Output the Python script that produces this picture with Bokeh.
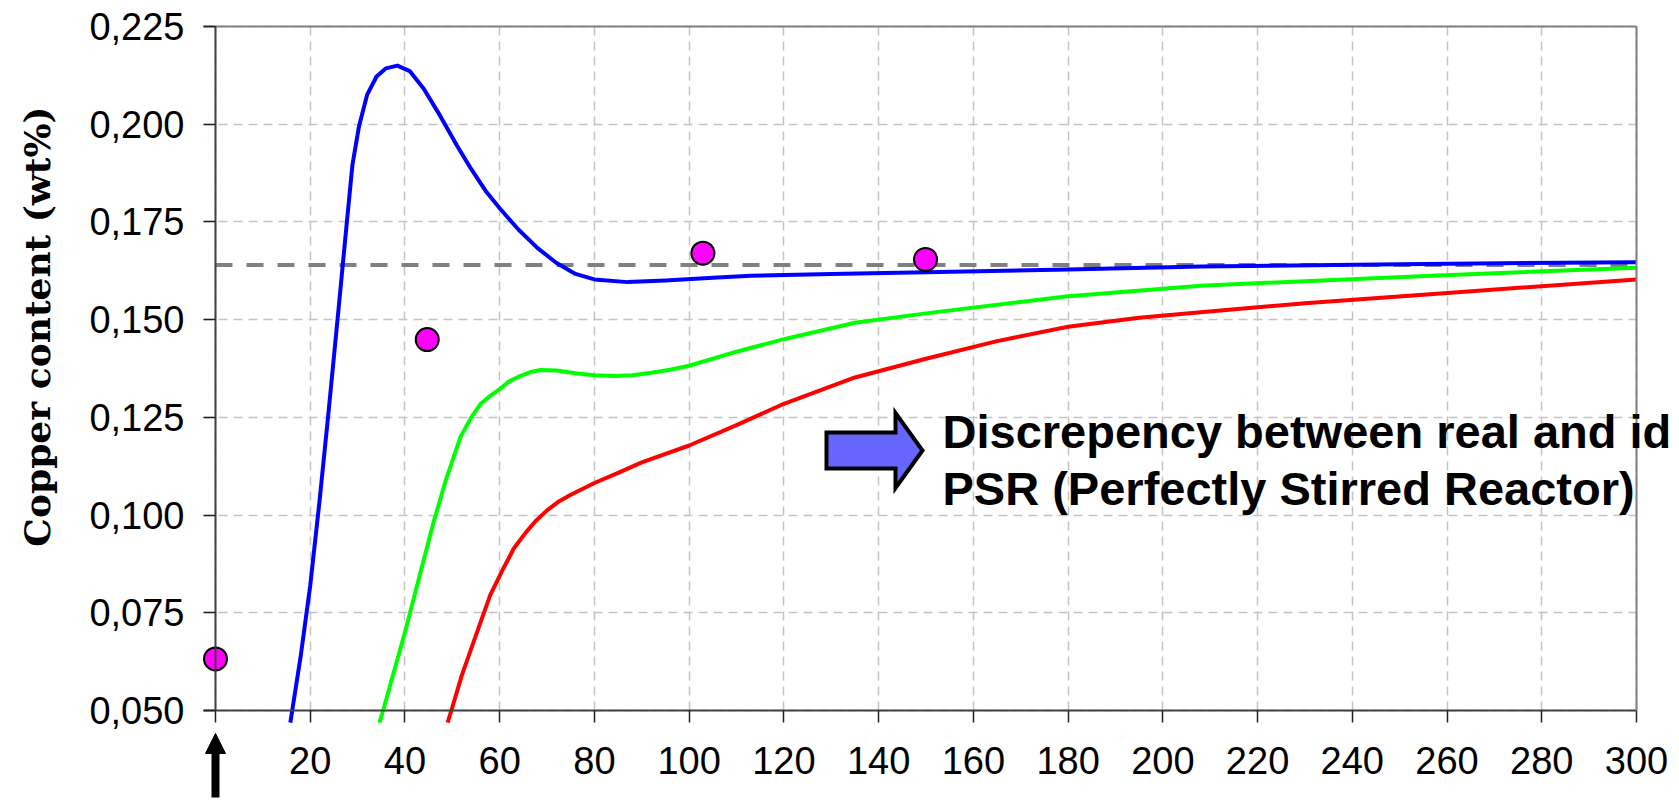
import numpy as np
from bokeh.plotting import figure
from bokeh.models import Range1d, FixedTicker, LinearAxis, Label, Arrow, NormalHead
from bokeh.embed import file_html
from bokeh.resources import INLINE

# ---------------- data ----------------
x_blue = [15.8, 16.2, 18, 20, 22, 24, 26, 27.5, 28.9, 30.3, 32, 34, 36, 38.4, 41, 44, 47.5,
          51, 54, 57, 60, 64, 68, 72, 76, 80, 87, 95, 105, 113, 130, 150, 180, 208, 250, 300]
y_blue = [0.0469, 0.050, 0.064, 0.082, 0.104, 0.128, 0.153, 0.172, 0.1895, 0.1995, 0.2075,
          0.2122, 0.2143, 0.2150, 0.2136, 0.2090, 0.2020, 0.1945, 0.1885, 0.1830, 0.1785,
          0.1730, 0.1683, 0.1645, 0.1617, 0.1603, 0.1596, 0.1600, 0.1607, 0.1612, 0.1617,
          0.1621, 0.1628, 0.1636, 0.1642, 0.1647]

x_green = [34.6, 35.4, 37, 40, 43, 46, 48.6, 51.7, 54, 56, 58, 60, 62, 64.4, 66.5, 68.6, 72,
           76, 80, 84.4, 88, 92, 96, 100, 110, 120, 135, 150, 180, 208, 258, 300]
y_green = [0.0469, 0.050, 0.057, 0.070, 0.084, 0.098, 0.1088, 0.1199, 0.1250, 0.1285, 0.1305,
           0.1322, 0.1342, 0.1356, 0.1366, 0.1371, 0.1370, 0.1363, 0.1358, 0.1356, 0.1358,
           0.1364, 0.1372, 0.1382, 0.1418, 0.1450, 0.1492, 0.1516, 0.1560, 0.1587, 0.1613,
           0.1633]

x_red = [49.0, 49.8, 52, 55.2, 58, 60.8, 63, 65.5, 67.6, 70, 72.5, 75, 78, 80, 85, 90, 100,
         110, 119.3, 135, 150, 165, 180, 195, 208, 230, 258.6, 300]
y_red = [0.0469, 0.050, 0.059, 0.070, 0.0795, 0.0864, 0.0915, 0.0955, 0.0985, 0.1012, 0.1035,
         0.1052, 0.1070, 0.1082, 0.1108, 0.1135, 0.1178, 0.1230, 0.1281, 0.1352, 0.1400,
         0.1445, 0.1482, 0.1505, 0.1519, 0.1542, 0.1567, 0.1603]

x_meas = [0, 44.7, 102.9, 149.9]
y_meas = [0.0632, 0.1449, 0.1670, 0.1654]

psr_level = 0.164

x_ticks = list(range(0, 301, 20))
x_tick_labels = [""] + [str(v) for v in range(20, 301, 20)]
y_ticks = [0.050, 0.075, 0.100, 0.125, 0.150, 0.175, 0.200, 0.225]
y_tick_labels = ["0,050", "0,075", "0,100", "0,125", "0,150", "0,175", "0,200", "0,225"]

y_title = "Copper content (wt%)"
note_line1 = "Discrepency between real and id"
note_line2 = "PSR (Perfectly Stirred Reactor)"

# ---------------- layout (whole canvas is the frame; axes are pinned) ----------------
W, H = 1679, 800
X_MIN, X_MAX = 0, 300
Y_MIN, Y_MAX = 0.050, 0.225
PLOT_L, PLOT_R, PLOT_T, PLOT_B = 215, 1636, 26, 710      # plot area in pixels
PX_PER_X = (PLOT_R - PLOT_L) / (X_MAX - X_MIN)
PX_PER_Y = (PLOT_B - PLOT_T) / (Y_MAX - Y_MIN)
TICK = 12


def dx(px):  # pixel column -> data x
    return X_MIN + (px - PLOT_L) / PX_PER_X


def dy(py):  # pixel row -> data y
    return Y_MAX - (py - PLOT_T) / PX_PER_Y


x_edge = dx(PLOT_L - TICK)

p = figure(width=W, height=H, min_border=0, min_border_left=0, min_border_right=0,
           min_border_top=0, min_border_bottom=0,
           x_range=Range1d(dx(0), dx(W)), y_range=Range1d(dy(H), dy(0)),
           output_backend="svg", toolbar_location=None,
           background_fill_color="white", border_fill_color="white")
p.outline_line_color = None
p.title.visible = False

TICK_FONT = "Liberation Sans"
TICK_SIZE = "38px"


def style_axis(a):
    a.major_tick_out = TICK
    a.major_tick_in = 0
    a.minor_tick_out = 0
    a.minor_tick_in = 0
    a.axis_line_color = "#404040"
    a.axis_line_width = 2
    a.major_tick_line_color = "#202020"
    a.major_tick_line_width = 1.5
    a.major_label_text_font = TICK_FONT
    a.major_label_text_font_size = TICK_SIZE
    a.major_label_text_color = "black"


# x axis pinned at y = 0.05
xa = p.xaxis[0]
style_axis(xa)
xa.fixed_location = Y_MIN
xa.bounds = (x_edge, X_MAX)
xa.ticker = FixedTicker(ticks=x_ticks)
xa.major_label_overrides = {t: l for t, l in zip(x_ticks, x_tick_labels)}
xa.major_label_standoff = 24

# y axis pinned at x = 0
ya = p.yaxis[0]
style_axis(ya)
ya.fixed_location = X_MIN
ya.bounds = (Y_MIN, Y_MAX)
ya.ticker = FixedTicker(ticks=y_ticks)
ya.major_label_overrides = {t: l for t, l in zip(y_ticks, y_tick_labels)}
ya.major_label_standoff = 19

# plot-area border on top and right
top = LinearAxis(ticker=FixedTicker(ticks=[]), fixed_location=Y_MAX, bounds=(x_edge, X_MAX),
                 axis_line_color="#808080", axis_line_width=2,
                 major_tick_out=0, major_tick_in=0, minor_tick_out=0, minor_tick_in=0)
p.add_layout(top, "above")
right = LinearAxis(ticker=FixedTicker(ticks=[]), fixed_location=X_MAX, bounds=(Y_MIN, Y_MAX),
                   axis_line_color="#808080", axis_line_width=2,
                   major_tick_out=0, major_tick_in=0, minor_tick_out=0, minor_tick_in=0)
p.add_layout(right, "right")

# grid limited to the plot area
xg, yg = p.xgrid[0], p.ygrid[0]
xg.ticker = FixedTicker(ticks=x_ticks)
yg.ticker = FixedTicker(ticks=y_ticks)
xg.bounds = (X_MIN, X_MAX)
yg.bounds = (Y_MIN, Y_MAX)
xg.cross_bounds = (Y_MIN, Y_MAX)
yg.cross_bounds = (x_edge, X_MAX)
for g in (xg, yg):
    g.grid_line_color = "#c4c4c4"
    g.grid_line_width = 1.5
    g.grid_line_dash = "9 6"

# PSR level (dashed gray)
p.line([X_MIN, X_MAX], [psr_level, psr_level], line_color="#808080", line_width=4,
       line_dash="17 14")

# curves
LW = 4
p.line(x_red, y_red, line_color="#FF0000", line_width=LW, line_join="round")
p.line(x_green, y_green, line_color="#00FF00", line_width=LW, line_join="round")
p.line(x_blue, y_blue, line_color="#0000FF", line_width=LW, line_join="round")

# measured points
p.scatter(x_meas, y_meas, size=23, fill_color="#FF00FF", line_color="black", line_width=2)

# block arrow pointing right (shape in pixels)
shape_px = [(826, 432), (895, 432), (895, 412.5), (922, 450), (895, 487.5), (895, 468), (826, 468)]
p.patch([dx(a) for a, b in shape_px], [dy(b) for a, b in shape_px],
        fill_color="#6666FF", line_color="black", line_width=4, line_join="miter")

# annotation text
NOTE_FONT = "Liberation Sans"
for line, base in ((note_line1, 431), (note_line2, 487.5)):
    p.add_layout(Label(x=dx(942), y=dy(base), text=line,
                       text_font=NOTE_FONT, text_font_size="47px", text_font_style="bold",
                       text_baseline="alphabetic", text_align="left", text_color="black"))

# y title (rotated)
p.add_layout(Label(x=dx(36), y=dy(326), text=y_title, angle=np.pi / 2,
                   text_font="DejaVu Serif", text_font_size="36px", text_font_style="bold",
                   text_align="center", text_baseline="middle", text_color="black"))

# up arrow below the origin
p.add_layout(Arrow(end=NormalHead(size=20, fill_color="black", line_color="black", line_width=1),
                   x_start=X_MIN, y_start=dy(797), x_end=X_MIN, y_end=dy(733),
                   line_color="black", line_width=8))

open("out.html", "w").write(file_html(p, INLINE))
